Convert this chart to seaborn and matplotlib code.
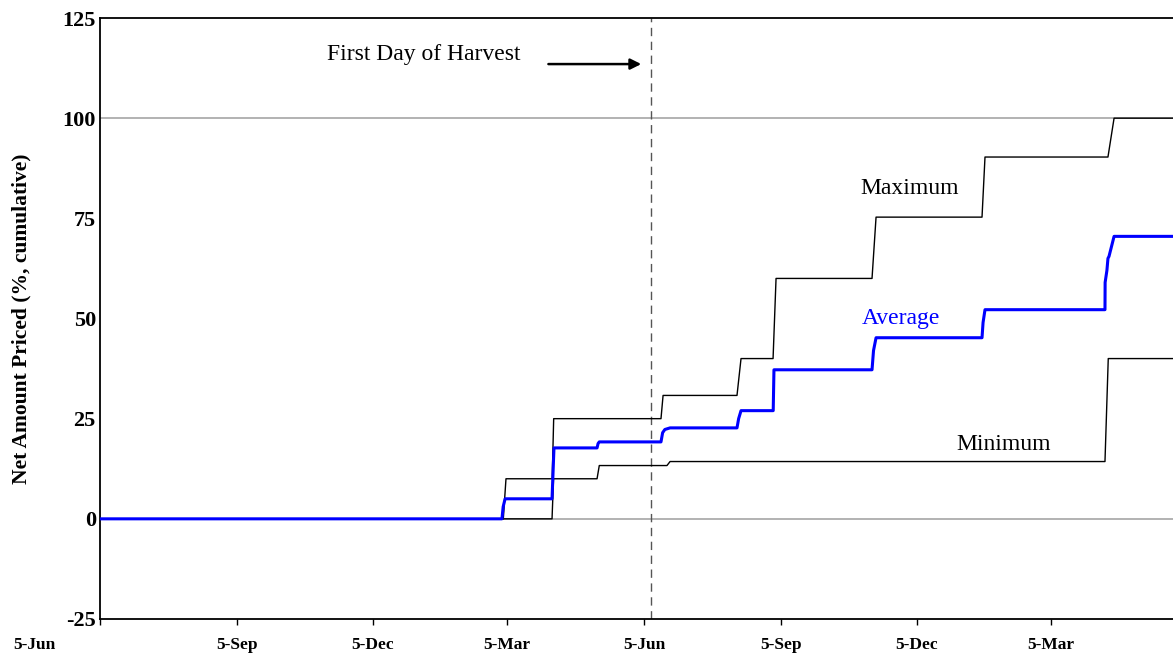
import pandas as pd
import matplotlib.pyplot as plt
import matplotlib.transforms as mtransforms
import seaborn as sns

# === DADOS (dias desde 5-Jun do primeiro ano) ===
max_days = [0, 270.6, 272.4, 303.4, 304.4, 376.4, 377.8, 427.4, 430.1, 451.6, 453.6,
            518.0, 520.7, 591.8, 593.8, 676.3, 680.4, 730]
max_vals = [0, 0, 10, 10, 25, 25, 30.8, 30.8, 40, 40, 60,
            60, 75.3, 75.3, 90.3, 90.3, 100, 100]

avg_days = [0, 269.7, 270.5, 271.8, 303.3, 304.6, 333.5, 334.2, 335.0, 376.4, 377.5,
            379.0, 382.5, 427.4, 428.5, 430.1, 451.7, 452.2, 518.0, 519.0, 520.7,
            591.8, 592.5, 593.8, 674.3, 674.4, 675.6, 676.3, 677.0, 680.4, 730]
avg_vals = [0, 0, 3, 5, 5, 17.7, 17.7, 18.8, 19.2, 19.2, 21.5,
            22.3, 22.7, 22.7, 25.0, 27.0, 27.0, 37.2, 37.2, 42.0, 45.2,
            45.2, 49.0, 52.2, 52.2, 59.0, 62.0, 65.0, 65.5, 70.5, 70.5]

min_days = [0, 303.3, 304.3, 333.5, 335.0, 380.4, 382.5, 674.3, 676.5, 730]
min_vals = [0, 0, 10, 10, 13.3, 13.3, 14.3, 14.3, 40, 40]

tick_days = [0, 92, 183, 273, 365, 457, 548, 638]
tick_labels = ["5-Jun", "5-Sep", "5-Dec", "5-Mar", "5-Jun", "5-Sep", "5-Dec", "5-Mar"]
y_ticks = [-25, 0, 25, 50, 75, 100, 125]
harvest_day = 369.7

df_max = pd.DataFrame({"dia": max_days, "valor": max_vals})
df_avg = pd.DataFrame({"dia": avg_days, "valor": avg_vals})
df_min = pd.DataFrame({"dia": min_days, "valor": min_vals})

# === ESTILO ===
sns.set_style("white")
plt.rcParams['font.family'] = ['Liberation Serif', 'DejaVu Serif']
plt.rcParams['text.color'] = 'black'
plt.rcParams['axes.labelcolor'] = 'black'
plt.rcParams['xtick.color'] = 'black'
plt.rcParams['ytick.color'] = 'black'

fig = plt.figure(figsize=(11.73, 6.62), dpi=100)
ax = fig.add_axes([100 / 1173, 1 - 619 / 662, 1 - 100 / 1173, (619 - 18) / 662])

# linhas de referência
ax.axhline(100, color='#a6a6a6', lw=1.2, zorder=1)
ax.axhline(0, color='#a6a6a6', lw=1.2, zorder=1)
ax.axvline(harvest_day, color='#555555', lw=1.0, ls=(0, (6, 4)), zorder=1)

sns.lineplot(data=df_max, x="dia", y="valor", color='black', lw=1.0,
             estimator=None, sort=False, ax=ax, zorder=3)
sns.lineplot(data=df_min, x="dia", y="valor", color='black', lw=1.0,
             estimator=None, sort=False, ax=ax, zorder=3)
sns.lineplot(data=df_avg, x="dia", y="valor", color='#0000ff', lw=2.2,
             estimator=None, sort=False, ax=ax, zorder=4)

ax.set_xlim(0, (1173 - 100) / 1.4904)
ax.set_ylim(-25, 125)
ax.set_xticks(tick_days)
ax.set_xticklabels(tick_labels, fontsize=12.5, fontweight='bold')
ax.set_yticks(y_ticks)
ax.set_yticklabels([str(v) for v in y_ticks], fontsize=16, fontweight='bold')
ax.tick_params(axis='x', bottom=True, direction='out', length=4, width=1, pad=9, colors='black')
ax.tick_params(axis='y', left=False, length=0, pad=3, colors='black')
ax.set_xlabel("")
ax.set_ylabel("Net Amount Priced (%, cumulative)", fontsize=15.5, fontweight='bold', labelpad=22)

for side in ['left', 'bottom', 'top']:
    ax.spines[side].set_color('black')
    ax.spines[side].set_linewidth(1.3)
ax.spines['right'].set_visible(False)

# primeiro rótulo deslocado para a esquerda, como no original
first = ax.get_xticklabels()[0]
first.set_transform(first.get_transform() + mtransforms.ScaledTranslation(-66 / 100, 0, fig.dpi_scale_trans))

# === ANOTAÇÕES ===
ax.text(217, 116, "First Day of Harvest", fontsize=17, ha='center', va='center')
ax.annotate("", xy=(365, 113.5), xytext=(299, 113.5),
            arrowprops=dict(arrowstyle='-|>', color='black', lw=1.8, mutation_scale=16))
ax.text(543.5, 82.5, "Maximum", fontsize=17, ha='center', va='center')
ax.text(537.4, 50, "Average", fontsize=17, ha='center', va='center', color='#0000ff')
ax.text(606.6, 18.5, "Minimum", fontsize=17, ha='center', va='center')

plt.savefig("out.png", dpi=100)
plt.close()
